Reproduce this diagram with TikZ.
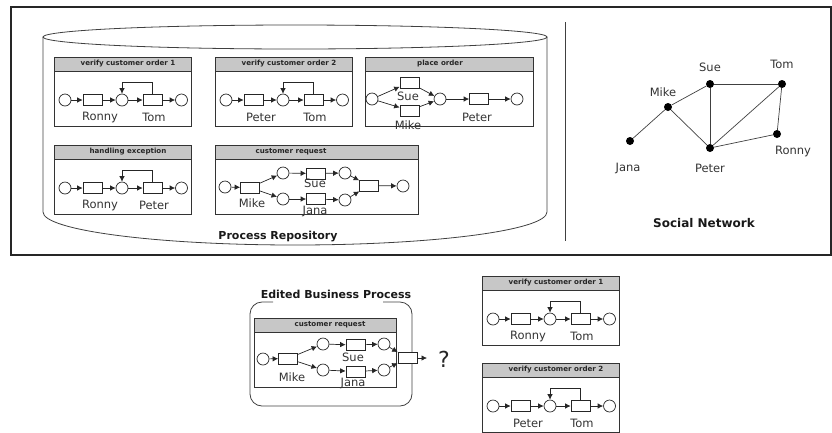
\documentclass[tikz,border=0pt]{standalone}
\usepackage{fontspec}
\setmainfont{DejaVu Sans}
\usetikzlibrary{arrows.meta,calc}
\tikzset{
  frameline/.style={draw=black!85, line width=1.1pt},
  thinline/.style={draw=black!75, line width=0.8pt},
  boxline/.style={draw=black!80, line width=0.9pt},
  hdr/.style={draw=black!80, line width=0.9pt, fill=black!22},
  hdrtext/.style={font=\fontsize{7.1}{8}\selectfont\bfseries, inner sep=0pt, text=black!85},
  place/.style={circle, draw=black!85, line width=0.7pt, minimum size=12pt, inner sep=0pt, fill=white},
  trans/.style={rectangle, draw=black!85, line width=0.7pt, minimum width=19pt, minimum height=11pt, inner sep=0pt, fill=white},
  arc/.style={-{Latex[length=5.5pt,width=5.5pt]}, line width=0.7pt, black!85},
  lbl/.style={font=\fontsize{11.5}{13}\selectfont, inner sep=0pt, text=black!80},
  netlbl/.style={font=\fontsize{11.5}{13}\selectfont, inner sep=0pt, text=black!80},
  agent/.style={circle, fill=black, minimum size=8pt, inner sep=0pt},
  edge/.style={line width=0.7pt, black!75},
  title/.style={font=\fontsize{11}{13}\selectfont\bfseries, inner sep=0pt, text=black!90},
  pics/seqnet/.style n args={3}{code={
    \draw[boxline] (0,0) rectangle (137,69);
    \draw[hdr] (0,0) rectangle (137,14);
    \node[hdrtext] (-h) at (74,7) {#1};
    \node[place] (-p0) at (11,43) {};
    \node[trans] (-t1) at (38.5,43) {};
    \node[place] (-p1) at (68,43) {};
    \node[trans] (-t2) at (98.5,43) {};
    \node[place] (-p2) at (127.5,43) {};
    \coordinate (-lp) at (68,25);
    \draw[arc] (-p0) -- (-t1);
    \draw[arc] (-t1) -- (-p1);
    \draw[arc] (-p1) -- (-t2);
    \draw[arc] (-t2) -- (-p2);
    \draw[arc] (-t2.north) |- (-lp) -- (-p1.north);
    \node[lbl] (-l1) at (46,60) {#2};
    \node[lbl] (-l2) at (100,60) {#3};
  }}
}
\begin{document}
\begin{tikzpicture}[x=1pt,y=-1pt]
\useasboundingbox (0,0) rectangle (832,432);

% outer frame
\draw[frameline] (11,7) rectangle (831,255);
% separator
\draw[thinline] (565,22) -- (565,241);

% cylinder
\draw[thinline] (43,37) -- (43,212) arc [start angle=180, end angle=0, x radius=252, y radius=33] -- (547,37);
\draw[thinline] (295,37) ellipse [x radius=252, y radius=12];

% repository processes
\pic (v1) at (54,57) {seqnet={verify customer order 1}{Ronny}{Tom}};
\pic (v2) at (215,57) {seqnet={verify customer order 2}{Peter}{Tom}};
\pic (he) at (54,145) {seqnet={handling exception}{Ronny}{Peter}};

% place order
\draw[boxline] (365,57) rectangle (533,126);
\draw[hdr] (365,57) rectangle (533,71);
\node[hdrtext] (poh) at (440,64) {place order};
\node[place] (ps) at (372,99) {};
\node[trans] (pt1) at (409.5,82.5) {};
\node[trans] (pt2) at (409.5,110.5) {};
\node[place] (pp) at (440,99) {};
\node[trans] (pt3) at (479,99) {};
\node[place] (pe) at (517,99) {};
\draw[arc] (ps) -- (pt1);
\draw[arc] (ps) -- (pt2);
\draw[arc] (pt1) -- (pp);
\draw[arc] (pt2) -- (pp);
\draw[arc] (pp) -- (pt3);
\draw[arc] (pt3) -- (pe);
\node[lbl] (pl1) at (408,96) {Sue};
\node[lbl] (pl2) at (408,125) {Mike};
\node[lbl] (pl3) at (477,117) {Peter};

% customer request (repository)
\draw[boxline] (215,145) rectangle (418,214);
\draw[hdr] (215,145) rectangle (418,159);
\node[hdrtext] (crh) at (291,152) {customer request};
\node[place] (cs) at (225,187) {};
\node[trans] (ct1) at (250,187.5) {};
\node[place] (cp1) at (283,173) {};
\node[place] (cp2) at (283,199) {};
\node[trans] (ct2) at (316,173.5) {};
\node[trans] (ct3) at (316,199) {};
\node[place] (cp3) at (345,173) {};
\node[place] (cp4) at (345,200) {};
\node[trans] (ct4) at (369,185.5) {};
\node[place] (ce) at (403,186) {};
\draw[arc] (cs) -- (ct1);
\draw[arc] (ct1) -- (cp1);
\draw[arc] (ct1) -- (cp2);
\draw[arc] (cp1) -- (ct2);
\draw[arc] (cp2) -- (ct3);
\draw[arc] (ct2) -- (cp3);
\draw[arc] (ct3) -- (cp4);
\draw[arc] (cp3) -- (ct4);
\draw[arc] (cp4) -- (ct4);
\draw[arc] (ct4) -- (ce);
\node[lbl] (cl1) at (315,183) {Sue};
\node[lbl] (cl2) at (252,203) {Mike};
\node[lbl] (cl3) at (315,211) {Jana};

\node[title] (prt) at (278,237) {Process Repository};

% social network
\node[agent] (sue) at (710,84) {};
\node[agent] (tom) at (782,84) {};
\node[agent] (mike) at (668,107) {};
\node[agent] (jana) at (630,141) {};
\node[agent] (peter) at (710,148) {};
\node[agent] (ronny) at (777,134) {};
\draw[edge] (jana) -- (mike);
\draw[edge] (mike) -- (sue);
\draw[edge] (mike) -- (peter);
\draw[edge] (sue) -- (peter);
\draw[edge] (sue) -- (tom);
\draw[edge] (peter) -- (tom);
\draw[edge] (tom) -- (ronny);
\draw[edge] (peter) -- (ronny);
\node[netlbl] (suel) at (710,67) {Sue};
\node[netlbl] (toml) at (782,64) {Tom};
\node[netlbl] (mikel) at (663,92) {Mike};
\node[netlbl] (janal) at (628,168) {Jana};
\node[netlbl] (peterl) at (710,168) {Peter};
\node[netlbl] (ronnyl) at (793,151) {Ronny};
\node[title, font=\fontsize{12}{14}\selectfont\bfseries] (snt) at (704,223) {Social Network};

% edited business process
\node[title] (ebt) at (336,294) {Edited Business Process};
\draw[thinline, rounded corners=12pt] (273,302) -- (250,302) -- (250,406) -- (412,406) -- (412,302) -- (383,302);
\draw[boxline] (254,318) rectangle (396,387);
\draw[hdr] (254,318) rectangle (396,332);
\node[hdrtext] (erh) at (330,325) {customer request};
\node[place] (es) at (263,359) {};
\node[trans] (et1) at (288,358.5) {};
\node[place] (ep1) at (323,344) {};
\node[place] (ep2) at (323,370) {};
\node[trans] (et2) at (355.5,345) {};
\node[trans] (et3) at (355.5,371.5) {};
\node[place] (ep3) at (384,344) {};
\node[place] (ep4) at (384,370) {};
\node[trans] (et4) at (407.5,358) {};
\coordinate (eo) at (427,358);
\draw[arc] (es) -- (et1);
\draw[arc] (et1) -- (ep1);
\draw[arc] (et1) -- (ep2);
\draw[arc] (ep1) -- (et2);
\draw[arc] (ep2) -- (et3);
\draw[arc] (et2) -- (ep3);
\draw[arc] (et3) -- (ep4);
\draw[arc] (ep3) -- (et4);
\draw[arc] (ep4) -- (et4);
\draw[arc] (et4) -- (eo);
\node[lbl] (el1) at (353,357) {Sue};
\node[lbl] (el2) at (292,377) {Mike};
\node[lbl] (el3) at (353,383) {Jana};
\node[font=\fontsize{22}{24}\selectfont, inner sep=0pt, text=black!85] (q) at (444,359) {?};

% candidate processes
\pic (c1) at (482,276) {seqnet={verify customer order 1}{Ronny}{Tom}};
\pic (c2) at (482,363) {seqnet={verify customer order 2}{Peter}{Tom}};
\end{tikzpicture}
\end{document}
